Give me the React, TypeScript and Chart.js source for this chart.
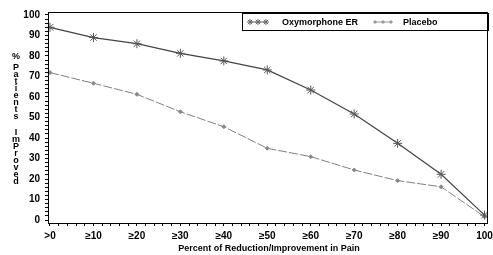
import React, { useEffect, useRef } from "react";
import { Chart, registerables } from "chart.js";

Chart.register(...registerables);

const categories = [">0", "≥10", "≥20", "≥30", "≥40", "≥50", "≥60", "≥70", "≥80", "≥90", "100"];
const oxymorphone = [94, 89, 86, 81.3, 77.6, 73.2, 63.4, 51.7, 37.4, 22.3, 2.4];
const placebo = [71.9, 66.7, 61.3, 52.8, 45.5, 35, 30.9, 24.4, 19.2, 16.2, 1.6];
const seriesNames = ["Oxymorphone ER", "Placebo"];
const yTitleParts = ["%", "Patients", "ImProved"];
const xTitle = "Percent of Reduction/Improvement in Pain";

const FONT = '"Liberation Sans", Arial, sans-serif';

function drawStar(ctx: CanvasRenderingContext2D, x: number, y: number, r: number) {
  ctx.beginPath();
  ctx.moveTo(x - r, y); ctx.lineTo(x + r, y);
  ctx.moveTo(x, y - r); ctx.lineTo(x, y + r);
  const d = r * 0.72;
  ctx.moveTo(x - d, y - d); ctx.lineTo(x + d, y + d);
  ctx.moveTo(x - d, y + d); ctx.lineTo(x + d, y - d);
  ctx.stroke();
}

function drawDiamond(ctx: CanvasRenderingContext2D, x: number, y: number, r: number) {
  ctx.beginPath();
  ctx.moveTo(x, y - r); ctx.lineTo(x + r, y); ctx.lineTo(x, y + r); ctx.lineTo(x - r, y);
  ctx.closePath();
  ctx.fill();
}

const decorPlugin = {
  id: "decor",
  afterDraw(chart: any) {
    const ctx: CanvasRenderingContext2D = chart.ctx;
    const a = chart.chartArea;
    ctx.save();
    // frame
    ctx.strokeStyle = "#000";
    ctx.lineWidth = 1;
    ctx.strokeRect(Math.round(a.left) + 0.5, Math.round(a.top) + 0.5, Math.round(a.right - a.left) - 1, Math.round(a.bottom - a.top));

    // y title stacked
    ctx.fillStyle = "#000";
    ctx.font = `bold 9px ${FONT}`;
    ctx.textAlign = "center";
    ctx.textBaseline = "middle";
    const starts = [57, 68, 133];
    yTitleParts.forEach((part, pi) => {
      for (let i = 0; i < part.length; i++) {
        ctx.fillText(part[i], 16, starts[pi] + i * 7);
      }
    });

    // x title
    ctx.font = `bold 9px ${FONT}`;
    ctx.fillText(xTitle, 269, 249);

    // legend
    const lx0 = 242, ly0 = 13, lx1 = 488, ly1 = 30;
    ctx.strokeStyle = "#000";
    ctx.strokeRect(lx0 + 0.5, ly0 + 0.5, lx1 - lx0, ly1 - ly0);
    const cy = 22;
    ctx.strokeStyle = "#666";
    ctx.lineWidth = 1;
    ctx.beginPath(); ctx.moveTo(249, cy); ctx.lineTo(267, cy); ctx.stroke();
    [250, 258, 266].forEach((x) => drawStar(ctx, x, cy, 3));
    ctx.strokeStyle = "#999";
    ctx.beginPath(); ctx.moveTo(375, cy); ctx.lineTo(392, cy); ctx.stroke();
    ctx.fillStyle = "#999";
    [375, 383, 391].forEach((x) => drawDiamond(ctx, x, cy, 2));
    ctx.fillStyle = "#000";
    ctx.font = `bold 9px ${FONT}`;
    ctx.textAlign = "left";
    ctx.fillText(seriesNames[0], 282, cy + 0.5);
    ctx.fillText(seriesNames[1], 403, cy + 0.5);
    ctx.restore();
  },
};

export default function App() {
  const ref = useRef<HTMLCanvasElement>(null);
  useEffect(() => {
    const canvas = ref.current!;
    const isInt = (v: number) => Math.abs(v - Math.round(v)) < 1e-6;
    const chart = new Chart(canvas, {
      type: "line",
      data: {
        datasets: [
          {
            label: seriesNames[0],
            data: oxymorphone.map((v, i) => ({ x: i, y: v })),
            borderColor: "#444",
            borderWidth: 1.2,
            pointStyle: "star",
            pointRadius: 4.5,
            pointBorderColor: "#555",
            pointBorderWidth: 1,
            pointBackgroundColor: "#555",
            tension: 0,
          },
          {
            label: seriesNames[1],
            data: placebo.map((v, i) => ({ x: i, y: v })),
            borderColor: "#808080",
            borderWidth: 1,
            borderDash: [9, 2],
            pointStyle: "rectRot",
            pointRadius: 2,
            pointBorderColor: "#888",
            pointBackgroundColor: "#888",
            tension: 0,
          },
        ],
      },
      options: {
        responsive: false,
        animation: false,
        layout: { padding: { top: 12, right: 2, left: 0, bottom: 0 } },
        plugins: { legend: { display: false }, tooltip: { enabled: false } },
        scales: {
          x: {
            type: "linear",
            min: -0.046,
            max: 10.068,
            afterFit: (s: any) => { s.height = 32; s.paddingLeft = 0; s.paddingRight = 0; },
            grid: { drawOnChartArea: false, drawTicks: true, tickLength: 3, color: "#000" },
            border: { display: true, color: "#000", width: 1 },
            ticks: {
              stepSize: 0.2,
              includeBounds: false,
              autoSkip: false,
              maxRotation: 0,
              padding: 4,
              color: "#000",
              font: { family: FONT, size: 10, weight: "bold" },
              callback: (v: any) => (isInt(Number(v)) ? categories[Math.round(Number(v))] ?? "" : ""),
            },
          },
          y: {
            type: "linear",
            min: -1.46,
            max: 101.46,
            afterFit: (s: any) => { s.width = 48; s.paddingTop = 0; s.paddingBottom = 0; },
            grid: { drawOnChartArea: false, drawTicks: true, tickLength: 3, color: "#000" },
            border: { display: true, color: "#000", width: 1 },
            ticks: {
              stepSize: 2,
              includeBounds: false,
              autoSkip: false,
              padding: 5,
              color: "#000",
              font: { family: FONT, size: 10, weight: "bold" },
              callback: (v: any) => {
                const n = Number(v);
                return isInt(n / 10) ? String(Math.round(n)) : "";
              },
            },
          },
        },
      },
      plugins: [decorPlugin],
    } as any);
    return () => chart.destroy();
  }, []);
  return (
    <div style={{ position: "absolute", left: 0, top: 0, width: 493, height: 255, background: "#fff" }}>
      <canvas ref={ref} width={493} height={255} />
    </div>
  );
}
